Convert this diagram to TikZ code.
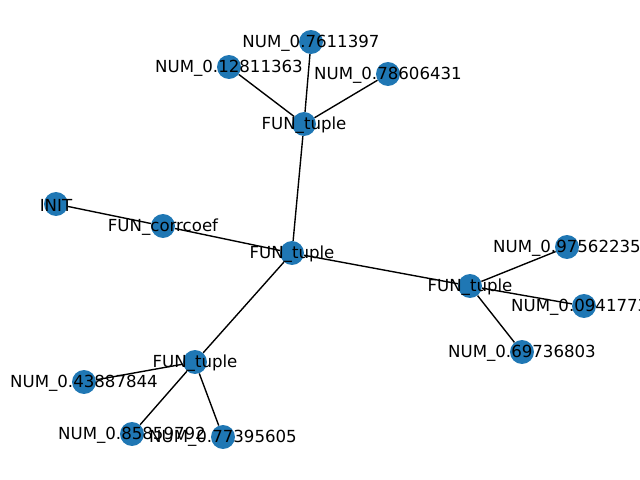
\documentclass[tikz,border=0pt]{standalone}
\usepackage{fontspec}
\setmainfont{DejaVu Sans}
\definecolor{nxblue}{HTML}{1F77B4}
\tikzset{
  vert/.style={circle, fill=nxblue, minimum size=17.3pt, inner sep=0pt},
  lbl/.style={font=\fontsize{12}{14}\selectfont, inner sep=0pt, yshift=-0.015in},
  edge/.style={line width=1pt, black}
}

\begin{document}
\begin{tikzpicture}[x=0.01in, y=-0.01in]
  \useasboundingbox (0,0) rectangle (640,480);
  \clip (0,0) rectangle (640,480);

  % vertices
  \node[vert] (tupC) at (292,253) {};
  \node[vert] (tupT) at (304,124) {};
  \node[vert] (tupR) at (470,286) {};
  \node[vert] (tupB) at (195,362) {};
  \node[vert] (init) at (56,204) {};
  \node[vert] (corr) at (163,226) {};
  \node[vert] (numA) at (311,42) {};
  \node[vert] (numB) at (229,67) {};
  \node[vert] (numC) at (388,74) {};
  \node[vert] (numD) at (567,247) {};
  \node[vert] (numE) at (584,306) {};
  \node[vert] (numF) at (522,352) {};
  \node[vert] (numG) at (84,382) {};
  \node[vert] (numH) at (132,434) {};
  \node[vert] (numI) at (223,437) {};

  % edges
  \draw[edge] (init) -- (corr);
  \draw[edge] (corr) -- (tupC);
  \draw[edge] (tupC) -- (tupT);
  \draw[edge] (tupC) -- (tupR);
  \draw[edge] (tupC) -- (tupB);
  \foreach \n in {numA, numB, numC}
    \draw[edge] (tupT) -- (\n);
  \foreach \n in {numD, numE, numF}
    \draw[edge] (tupR) -- (\n);
  \foreach \n in {numG, numH, numI}
    \draw[edge] (tupB) -- (\n);

  % labels
  \node[lbl] (tupCl) at (tupC) {FUN\_tuple};
  \node[lbl] (tupTl) at (tupT) {FUN\_tuple};
  \node[lbl] (tupRl) at (tupR) {FUN\_tuple};
  \node[lbl] (tupBl) at (tupB) {FUN\_tuple};
  \node[lbl] (initl) at (init) {INIT};
  \node[lbl] (corrl) at (corr) {FUN\_corrcoef};
  \node[lbl] (numAl) at (numA) {NUM\_0.7611397};
  \node[lbl] (numBl) at (numB) {NUM\_0.12811363};
  \node[lbl] (numCl) at (numC) {NUM\_0.78606431};
  \node[lbl] (numDl) at (numD) {NUM\_0.97562235};
  \node[lbl, anchor=west, xshift=-0.73in] (numEl) at (numE) {NUM\_0.0941773};
  \node[lbl] (numFl) at (numF) {NUM\_0.69736803};
  \node[lbl] (numGl) at (numG) {NUM\_0.43887844};
  \node[lbl] (numHl) at (numH) {NUM\_0.85859792};
  \node[lbl] (numIl) at (numI) {NUM\_0.77395605};
\end{tikzpicture}
\end{document}
